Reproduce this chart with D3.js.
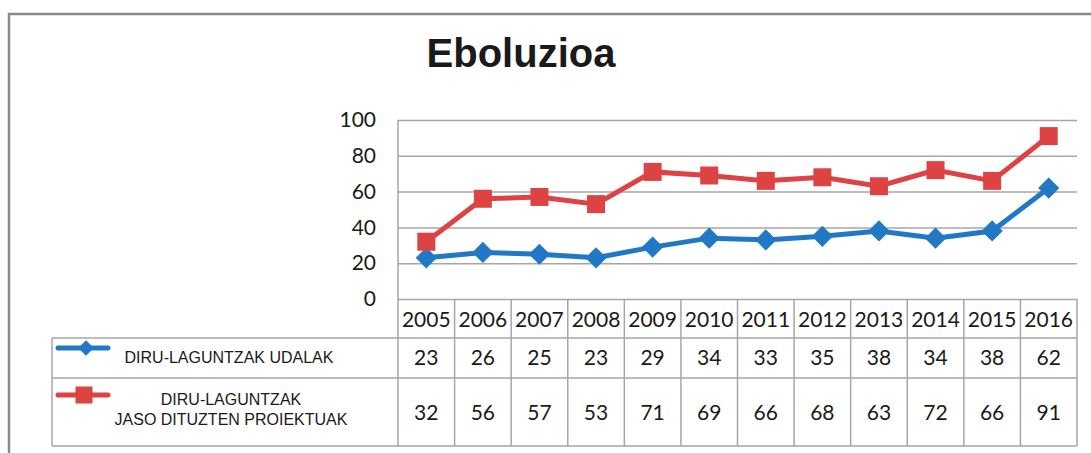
<!DOCTYPE html>
<html>
<head>
<meta charset="utf-8">
<script src="https://cdn.jsdelivr.net/npm/d3@7"></script>
<style>
  body { margin: 0; background: #fff; }
  svg text { fill: #1a1a1a; }
</style>
</head>
<body>
<div id="canvas"></div>
<script>
"use strict"

// data
const years = ["2005", "2006", "2007", "2008", "2009", "2010", "2011", "2012", "2013", "2014", "2015", "2016"];
const udalak = [23, 26, 25, 23, 29, 34, 33, 35, 38, 34, 38, 62];
const proiektuak = [32, 56, 57, 53, 71, 69, 66, 68, 63, 72, 66, 91];
const yTicks = [0, 20, 40, 60, 80, 100];
const seriesNames = [["DIRU-LAGUNTZAK UDALAK"], ["DIRU-LAGUNTZAK", "JASO DITUZTEN PROIEKTUAK"]];

const blue = "#2178c4";
const red = "#dd4343";
const gridColor = "#a6a6a6";
const numFont = "Lato, 'Open Sans', sans-serif";

let drawing = d3.select("#canvas")
    .append("svg")
    .attr("width", 1091)
    .attr("height", 453);

// outer frame (only top and left edges are visible in the picture)
drawing.append("path")
    .attr("d", "M9,453 V14 H1091")
    .attr("fill", "none")
    .attr("stroke", "#8a8a8a")
    .attr("stroke-width", 2.5);

// title
drawing.append("text")
    .attr("x", 521)
    .attr("y", 67)
    .attr("text-anchor", "middle")
    .attr("font-family", "'Liberation Sans', Arial, sans-serif")
    .attr("font-weight", "bold")
    .attr("font-size", 40)
    .text("Eboluzioa");

let x = d3.scaleBand().domain(years).range([398, 1077]);
let y = d3.scaleLinear().domain([0, 100]).range([299, 120]);

// gridlines
let grid = drawing.append("g")
    .attr("transform", "translate(398,0)")
    .call(d3.axisLeft(y).tickValues(yTicks).tickSize(-(1077 - 398)).tickFormat(""));
grid.select(".domain").remove();
grid.selectAll("line").attr("stroke", gridColor).attr("stroke-width", 1.5);

// y labels
let yAxis = drawing.append("g")
    .attr("transform", "translate(376,0)")
    .call(d3.axisLeft(y).tickValues(yTicks).tickSize(0).tickPadding(0));
yAxis.select(".domain").remove();
yAxis.selectAll("text")
    .attr("font-family", numFont)
    .attr("font-size", 21)
    .attr("fill", "#1a1a1a");

// data table
const rowTop = 299, row1 = 338, row2 = 378, rowBottom = 446, legendLeft = 52;
let table = drawing.append("g")
    .attr("stroke", gridColor)
    .attr("stroke-width", 1.5);

// vertical lines between the year columns
table.selectAll("line.col")
    .data(years.concat(["end"]))
    .join("line")
    .attr("class", "col")
    .attr("x1", (d, i) => i < years.length ? x(d) : x.range()[1])
    .attr("x2", (d, i) => i < years.length ? x(d) : x.range()[1])
    .attr("y1", (d, i) => i == 0 ? y(100) : rowTop)
    .attr("y2", rowBottom);

table.append("line").attr("x1", legendLeft).attr("x2", 1077).attr("y1", row1).attr("y2", row1);
table.append("line").attr("x1", legendLeft).attr("x2", 1077).attr("y1", row2).attr("y2", row2);
table.append("line").attr("x1", legendLeft).attr("x2", 1077).attr("y1", rowBottom).attr("y2", rowBottom);
table.append("line").attr("x1", legendLeft).attr("x2", legendLeft).attr("y1", row1).attr("y2", rowBottom);

// year labels
drawing.selectAll("text.year")
    .data(years)
    .join("text")
    .attr("class", "year")
    .attr("x", d => x(d) + x.bandwidth() / 2)
    .attr("y", 327)
    .attr("text-anchor", "middle")
    .attr("font-family", numFont)
    .attr("font-size", 21)
    .text(d => d);

// values in the table
drawing.selectAll("text.v1")
    .data(udalak)
    .join("text")
    .attr("x", (d, i) => x(years[i]) + x.bandwidth() / 2)
    .attr("y", 365)
    .attr("text-anchor", "middle")
    .attr("font-family", numFont)
    .attr("font-size", 21)
    .text(d => d);

drawing.selectAll("text.v2")
    .data(proiektuak)
    .join("text")
    .attr("x", (d, i) => x(years[i]) + x.bandwidth() / 2)
    .attr("y", 420)
    .attr("text-anchor", "middle")
    .attr("font-family", numFont)
    .attr("font-size", 21)
    .text(d => d);

// lines and markers
let line = d3.line()
    .x((d, i) => x(years[i]) + x.bandwidth() / 2)
    .y(d => y(d));

const diamond = d3.symbol().type(d3.symbolSquare).size(15 * 15);
const square = d3.symbol().type(d3.symbolSquare).size(18 * 18);

drawing.append("path")
    .attr("d", line(udalak))
    .attr("fill", "none")
    .attr("stroke", blue)
    .attr("stroke-width", 5);

drawing.selectAll("path.blueMark")
    .data(udalak)
    .join("path")
    .attr("class", "blueMark")
    .attr("d", diamond)
    .attr("transform", (d, i) => "translate(" + (x(years[i]) + x.bandwidth() / 2) + "," + y(d) + ") rotate(45)")
    .attr("fill", blue);

drawing.append("path")
    .attr("d", line(proiektuak))
    .attr("fill", "none")
    .attr("stroke", red)
    .attr("stroke-width", 5);

drawing.selectAll("path.redMark")
    .data(proiektuak)
    .join("path")
    .attr("class", "redMark")
    .attr("d", square)
    .attr("transform", (d, i) => "translate(" + (x(years[i]) + x.bandwidth() / 2) + "," + y(d) + ")")
    .attr("fill", red);

// legend keys in the table
drawing.append("line")
    .attr("x1", 58).attr("x2", 108).attr("y1", 348).attr("y2", 348)
    .attr("stroke", blue).attr("stroke-width", 5).attr("stroke-linecap", "round");
drawing.append("path")
    .attr("d", d3.symbol().type(d3.symbolSquare).size(11 * 11))
    .attr("transform", "translate(86,348) rotate(45)")
    .attr("fill", blue);

drawing.append("line")
    .attr("x1", 58).attr("x2", 108).attr("y1", 395).attr("y2", 395)
    .attr("stroke", red).attr("stroke-width", 5).attr("stroke-linecap", "round");
drawing.append("path")
    .attr("d", d3.symbol().type(d3.symbolSquare).size(17 * 17))
    .attr("transform", "translate(84,395)")
    .attr("fill", red);

// series names
drawing.append("text")
    .attr("x", 229)
    .attr("y", 363)
    .attr("text-anchor", "middle")
    .attr("font-family", "'Liberation Sans', Arial, sans-serif")
    .attr("font-size", 16)
    .text(seriesNames[0][0]);

drawing.selectAll("text.name2")
    .data(seriesNames[1])
    .join("text")
    .attr("x", 231)
    .attr("y", (d, i) => 405 + i * 20)
    .attr("text-anchor", "middle")
    .attr("font-family", "'Liberation Sans', Arial, sans-serif")
    .attr("font-size", 16)
    .text(d => d);
</script>
</body>
</html>
